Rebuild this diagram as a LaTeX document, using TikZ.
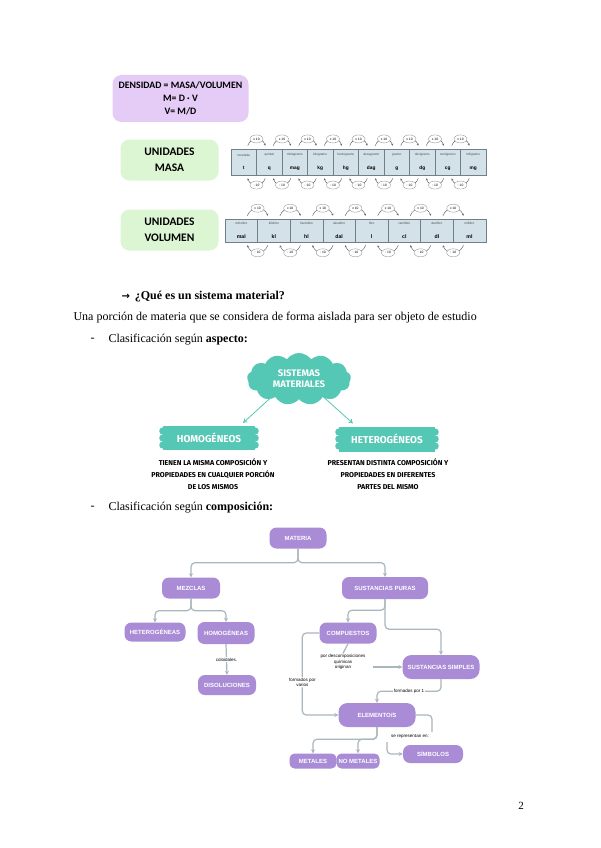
\documentclass[tikz,border=0pt]{standalone}
\usepackage{fontspec}
\setmainfont{Liberation Serif}
\newfontfamily\calfont{Carlito}
\newfontfamily\lsans{Liberation Sans}
\newfontfamily\firafont{Fira Sans}
\newfontfamily\djv{DejaVu Sans}
\usetikzlibrary{shapes.symbols,shapes.geometric,arrows.meta,calc}
\definecolor{densfill}{HTML}{E5CCF6}
\definecolor{greenfill}{HTML}{DCF5D3}
\definecolor{cellfill}{HTML}{D3E2E8}
\definecolor{cellborder}{HTML}{70808A}
\definecolor{tealc}{HTML}{55C7B5}
\definecolor{purp}{HTML}{A98BD6}
\definecolor{connc}{HTML}{A9B6BE}
\tikzset{
  densbox/.style={rounded corners=9pt, fill=densfill, minimum width=136pt, minimum height=47pt, align=center, font=\calfont\bfseries\fontsize{9.8}{13}\selectfont},
  greenbox/.style={rounded corners=9pt, fill=greenfill, minimum width=98pt, minimum height=41pt, align=center, font=\calfont\bfseries\fontsize{11.5}{16}\selectfont},
  cell/.style={draw=cellborder, line width=0.6pt, fill=cellfill, inner sep=0pt, align=center},
  oval/.style={ellipse, draw=gray!80, fill=white, line width=0.4pt, inner sep=0.3pt, minimum width=13pt, minimum height=8pt, font=\lsans\fontsize{3.3}{4}\selectfont},
  arcline/.style={draw=gray!75!black, line width=0.45pt, -{Stealth[length=2pt,width=2pt]}},
  tealbox/.style={fill=tealc, text=white, font=\firafont\bfseries\fontsize{10}{12}\selectfont, inner sep=0pt},
  tealarr/.style={draw=tealc, line width=0.8pt, -{To[length=4pt,width=5pt]}},
  desc/.style={align=center, font=\firafont\bfseries\fontsize{7.1}{12}\selectfont},
  pill/.style={rounded corners=7pt, fill=purp, text=white, inner sep=0pt, font=\lsans\bfseries\fontsize{6}{7}\selectfont},
  conn/.style={draw=connc, line width=1.2pt, rounded corners=4pt, -{Stealth[length=4pt,width=4pt]}},
  connplain/.style={draw=connc, line width=1.2pt, rounded corners=4pt},
  lbl/.style={fill=white, inner sep=0.8pt, align=center, font=\lsans\fontsize{4.5}{5.5}\selectfont}
}
\begin{document}
\begin{tikzpicture}[x=1pt,y=-1pt]
\useasboundingbox[fill=white] (0,0) rectangle (600,848);

% density and unit boxes
\node[densbox] (dens) at (180.5,98.5) {DENSIDAD = MASA/VOLUMEN\\M= D · V\\V= M/D};
\node[greenbox] (umasa) at (169.5,160) {UNIDADES\\MASA};
\node[greenbox] (uvol) at (169.5,230) {UNIDADES\\VOLUMEN};

% mass table
\foreach \n/\a [count=\i from 0] in {tonelada/t, quintal/q, miriagramo/mag, kilogramo/kg, hectogramo/hg, decagramo/dag, gramo/g, decigramo/dg, centigramo/cg, miligramo/mg}{
  \pgfmathsetmacro\cx{231+12.75+25.5*\i}
  \node[cell, minimum width=25.5pt, minimum height=26pt] (mc\i) at (\cx,162) {{\fontsize{3.2}{4}\selectfont\lsans\color{black!70}\n}\\[1.5pt]{\fontsize{4.8}{5}\selectfont\lsans\bfseries \a}};
}
\foreach \i in {0,...,8}{
  \pgfmathtruncatemacro\j{\i+1}
  \draw[arcline] ($(mc\i.north)+(4,-3)$) .. controls +(3,-9) and +(-3,-9) .. ($(mc\j.north)+(-4,-3)$) node[oval,midway] (mu\i) {x 10};
  \draw[arcline] ($(mc\j.south)+(-4,3)$) .. controls +(-3,9) and +(3,9) .. ($(mc\i.south)+(4,3)$) node[oval,midway] (md\i) {: 10};
}

% volume table
\foreach \n/\a [count=\i from 0] in {miriolitro/mal, kilolitro/kl, hectolitro/hl, decalitro/dal, litro/l, centilitro/cl, decilitro/dl, mililitro/ml}{
  \pgfmathsetmacro\cx{225+16.3+32.6*\i}
  \node[cell, minimum width=32.6pt, minimum height=23pt] (vc\i) at (\cx,230.5) {{\fontsize{3.2}{4}\selectfont\lsans\color{black!70}\n}\\[1.5pt]{\fontsize{5.2}{6}\selectfont\lsans\bfseries \a}};
}
\foreach \i in {0,...,6}{
  \pgfmathtruncatemacro\j{\i+1}
  \draw[arcline] ($(vc\i.north)+(6,-3)$) .. controls +(4,-10) and +(-4,-10) .. ($(vc\j.north)+(-6,-3)$) node[oval,midway] (vu\i) {x 10};
  \draw[arcline] ($(vc\j.south)+(-6,3)$) .. controls +(-4,10) and +(4,10) .. ($(vc\i.south)+(6,3)$) node[oval,midway] (vd\i) {: 10};
}

% text
\node[anchor=west, font=\bfseries\fontsize{12}{14}\selectfont] (q) at (118,297) {{\djv\bfseries\fontsize{10}{12}\selectfont →}\hspace{5pt}¿Qué es un sistema material?};
\node[anchor=west, font=\fontsize{12}{14}\selectfont] (def) at (70,318) {Una porción de materia que se considera de forma aislada para ser objeto de estudio};
\node[anchor=west, font=\fontsize{12}{14}\selectfont] (dash1) at (87,340) {-};
\node[anchor=west, font=\fontsize{12}{14}\selectfont] (cl1) at (105,340) {Clasificación según \textbf{aspecto:}};

% sistemas materiales
\node[cloud, cloud puffs=13, cloud puff arc=110, aspect=2.1, fill=tealc, minimum width=104pt, minimum height=52pt, inner sep=0pt] (sis) at (299,379) {};
\node[align=center, text=white, font=\firafont\bfseries\fontsize{9.5}{11}\selectfont] (sist) at (299,379) {SISTEMAS\\MATERIALES};
\node[tealbox, minimum width=92pt, minimum height=24pt] (homo) at (209,438) {HOMOGÉNEOS};
\node[tealbox, minimum width=96pt, minimum height=25pt] (hete) at (387,439) {HETEROGÉNEOS};
\foreach \n in {homo,hete}{
  \foreach \dy in {-7,0,7}{
    \fill[tealc] ($(\n.west)+(0,\dy)$) circle (3.6pt);
    \fill[tealc] ($(\n.east)+(0,\dy)$) circle (3.6pt);
  }
}
\draw[tealarr] ($(sis.south)+(-27,-3)$) -- ($(homo.north east)+(-12,-3)$);
\draw[tealarr] ($(sis.south)+(24,-3)$) -- ($(hete.north west)+(14,-3)$);
\node[desc] (hodesc) at (213,474) {TIENEN LA MISMA COMPOSICIÓN Y\\PROPIEDADES EN CUALQUIER PORCIÓN\\DE LOS MISMOS};
\node[desc] (hedesc) at (388,474) {PRESENTAN DISTINTA COMPOSICIÓN Y\\PROPIEDADES EN DIFERENTES\\PARTES DEL MISMO};

\node[anchor=west, font=\fontsize{12}{14}\selectfont] (dash2) at (87,508) {-};
\node[anchor=west, font=\fontsize{12}{14}\selectfont] (cl2) at (105,508) {Clasificación según \textbf{composición:}};

% materia diagram
\node[pill, minimum width=57pt, minimum height=21pt] (mat) at (298,538) {MATERIA};
\node[pill, minimum width=58pt, minimum height=21pt] (mez) at (191,588) {MEZCLAS};
\node[pill, minimum width=86pt, minimum height=22pt] (sp) at (385,588) {SUSTANCIAS PURAS};
\node[pill, minimum width=61pt, minimum height=19pt] (het) at (155,632) {HETEROGÉNEAS};
\node[pill, minimum width=57pt, minimum height=22pt] (hom) at (226,633) {HOMOGÉNEAS};
\node[pill, minimum width=57pt, minimum height=21pt] (comp) at (348,633) {COMPUESTOS};
\node[pill, minimum width=58pt, minimum height=20pt] (dis) at (227,685) {DISOLUCIONES};
\node[pill, minimum width=77pt, minimum height=24pt, rounded corners=9pt] (ss) at (441,667) {SUSTANCIAS SIMPLES};
\node[pill, minimum width=77pt, minimum height=24pt, rounded corners=9pt] (elem) at (377,715) {ELEMENTO/S};
\node[pill, minimum width=47pt, minimum height=15pt, rounded corners=5pt] (met) at (313,761) {METALES};
\node[pill, minimum width=43pt, minimum height=15pt, rounded corners=5pt] (nomet) at (358,761) {NO METALES};
\node[pill, minimum width=60pt, minimum height=18pt] (sim) at (433,754) {SÍMBOLOS};

\draw[conn] (mat.south) -- ++(0,14) -| (mez.north);
\draw[conn] (mat.south) -- ++(0,14) -| (sp.north);
\draw[conn] (mez.south) -- ++(0,12) -| (het.north);
\draw[conn] (mez.south) -- ++(0,12) -| (hom.north);
\draw[conn] (hom.south) -- node[lbl] (coltxt) {coloidales.} (dis.north);
\draw[conn] (sp.south) -- ++(0,11) -| (comp.north);
\draw[conn] (sp.south) -- ++(0,30) -| (ss.north);
\node[lbl] (cdesc) at (343,662) {por descomposiciones\\químicas\\originan};
\draw[connplain] (comp.south) -- (cdesc.north);
\draw[conn, shorten <=7pt] (cdesc.east |- ss.west) -- (ss.west);
\draw[conn] (comp.west) -- ++(-17,0) |- node[lbl, pos=0.3] (fvar) {formados por\\varios} (elem.west);
\draw[conn] (ss.south) -- ++(0,12) -| node[lbl, pos=0.25] (f1) {formados por 1} (elem.north);
\draw[conn] (elem.south) -- ++(0,12) -| (met.north);
\draw[conn] (elem.south) -- ++(0,12) -| (nomet.north);
\coordinate (r1) at (432,732);
\node[lbl] (rep) at (410,737) {se representan en:};
\coordinate (r2) at (387,742);
\draw[connplain] (elem.east) -| (r1);
\draw[conn] (r2) |- (sim.west);

\node[font=\fontsize{11}{13}\selectfont] (pg) at (521,806) {2};
\end{tikzpicture}
\end{document}
